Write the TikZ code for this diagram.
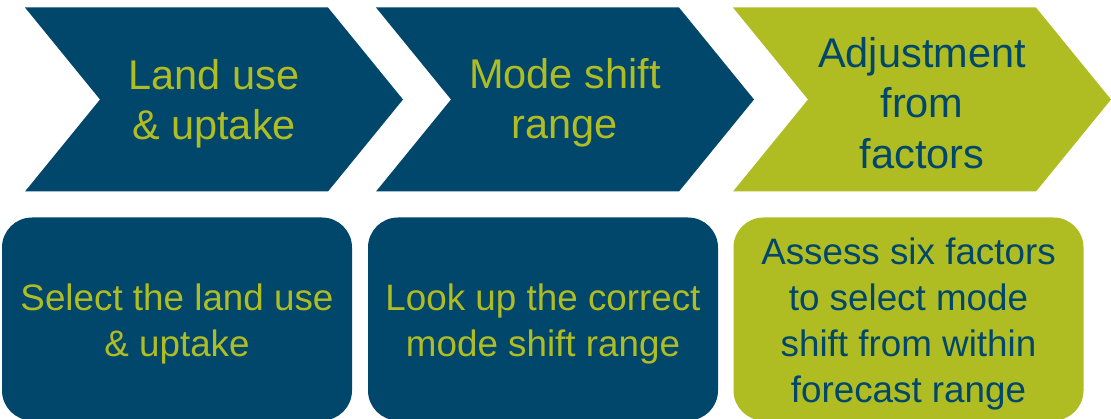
\documentclass[tikz,border=0pt]{standalone}
\usepackage{fontspec}
\setmainfont{Liberation Sans}
\definecolor{navy}{RGB}{0,71,107}
\definecolor{lime}{RGB}{175,189,35}
\tikzset{
	steptext/.style={align=center, font=\fontsize{41.5}{50.5}\selectfont},
	boxtext/.style={align=center, font=\fontsize{36.8}{46}\selectfont}
}
\begin{document}
\begin{tikzpicture}[x=1pt,y=-1pt]
		\useasboundingbox (0,0) rectangle (1111,419);
		% chevrons along the top
		\fill[navy] (25,7.5)--(328,7.5)--(403,99.5)--(328,191.5)--(25,191.5)--(100,99.5)--cycle;
		\fill[navy] (376,7.5)--(679,7.5)--(754,99.5)--(679,191.5)--(376,191.5)--(451,99.5)--cycle;
		\fill[lime] (733,7.5)--(1036,7.5)--(1111,99.5)--(1036,191.5)--(733,191.5)--(808,99.5)--cycle;
		\node[steptext, text=lime] (land) at (214,104) {Land use\\\& uptake};
		\node[steptext, text=lime] (shift) at (565,103) {Mode shift\\range};
		\node[steptext, text=navy] (adjust) at (922,103) {Adjustment\\from\\factors};
		% rounded boxes underneath
		\fill[navy, rounded corners=30pt] (2,217.5) rectangle (352,420.5);
		\fill[navy, rounded corners=30pt] (368,217.5) rectangle (718,420.5);
		\fill[lime, rounded corners=30pt] (733.5,217.5) rectangle (1083.5,420.5);
		\node[boxtext, text=lime] (select) at (177,323.5) {Select the land use\\\& uptake};
		\node[boxtext, text=lime] (lookup) at (543,323.5) {Look up the correct\\mode shift range};
		\node[boxtext, text=navy] (assess) at (908.5,323.5) {Assess six factors\\to select mode\\shift from within\\forecast range};
	\end{tikzpicture}
\end{document}
